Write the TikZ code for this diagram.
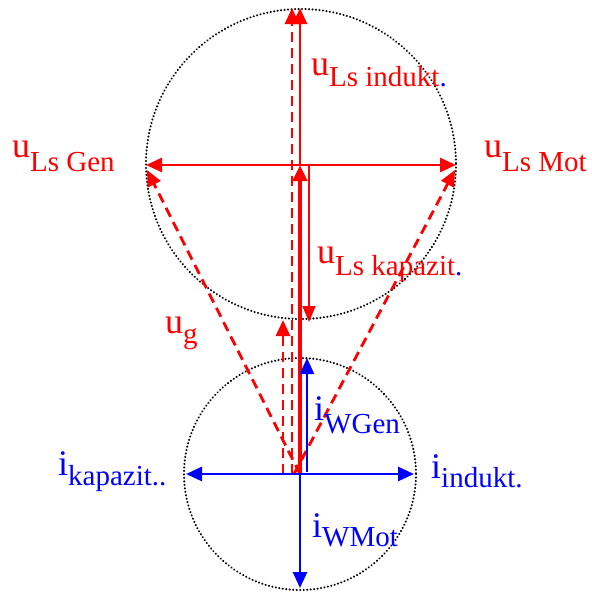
\documentclass[tikz,border=0pt]{standalone}
\usepackage{fontspec}
\setmainfont{Liberation Serif}
\usetikzlibrary{arrows.meta}
\newcommand\lsub[2]{\raisebox{-#1pt}{\fontsize{29}{29}\selectfont #2}}
\begin{document}
\begin{tikzpicture}[x=1pt,y=-1pt,
  vec/.style={line width=2.8pt,-{Triangle[length=16pt,width=14pt]}},
  rvec/.style={vec,draw=red},
  bvec/.style={vec,draw=blue},
  rdash/.style={rvec,dash pattern=on 10pt off 6pt},
  circ/.style={draw=black,line width=2.2pt,dash pattern=on 0.1pt off 3.4pt,line cap=round},
  lbl/.style={anchor=base west,inner sep=0pt,font=\fontsize{36}{36}\selectfont}]
\useasboundingbox (0,0) rectangle (592,592);
% coordinates
\coordinate (O) at (300,474);
\coordinate (T) at (300,165);
\coordinate (Ttop) at (300,8);
\coordinate (TL) at (146,165);
\coordinate (TR) at (456,165);
\coordinate (Kc) at (309,165);
\coordinate (Kb) at (309,322);
\coordinate (D0) at (292,474);
\coordinate (D1) at (292,8);
\coordinate (G0) at (283,474);
\coordinate (G1) at (283,320);
\coordinate (R0) at (294,474);
\coordinate (L1) at (147,170);
\coordinate (R1) at (455,170);
\coordinate (BL) at (186,474);
\coordinate (BR) at (414,474);
\coordinate (BD) at (300,588);
\coordinate (W0) at (307,472);
\coordinate (W1) at (307,358);
% circles
\draw[circ] (301,164) circle [radius=155];
\draw[circ] (300,474) circle [radius=116];
% red dashed
\draw[rdash] (D0) -- (D1);
\draw[rdash] (G0) -- (G1);
\draw[rdash] (O) -- (L1);
\draw[rdash] (R0) -- (R1);
% red solid
\draw[rvec] (T) -- (TL);
\draw[rvec] (T) -- (TR);
\draw[rvec] (T) -- (Ttop);
\draw[rvec,line width=4.5pt] (O) -- (T);
\draw[red,line width=1.6pt,-{Triangle[length=16pt,width=13pt]}] (T) -- (Kc) -- (Kb);
% blue
\draw[bvec] (O) -- (BL);
\draw[bvec] (O) -- (BR);
\draw[bvec] (O) -- (BD);
\draw[bvec,line width=2.2pt] (W0) -- (W1);
% labels
\node[lbl,text=red] (uind) at (311,75) {u\lsub{11}{Ls indukt\textcolor{blue}{.}}};
\node[lbl,text=red] (ugen) at (12,157) {u\lsub{14}{Ls Gen}};
\node[lbl,text=red] (umot) at (484,157) {u\lsub{14}{Ls Mot}};
\node[lbl,text=red] (ukap) at (317,263) {u\lsub{12}{Ls kapazit\textcolor{blue}{.}}};
\node[lbl,text=red] (ug) at (165,333) {u\lsub{10}{g}};
\node[lbl,text=blue] (iwgen) at (314,420) {i\lsub{13}{WGen}};
\node[lbl,text=blue] (ikap) at (58,475) {i\lsub{10}{kapazit..}};
\node[lbl,text=blue] (iind) at (431,478) {i\lsub{9}{indukt.}};
\node[lbl,text=blue] (iwmot) at (312,537) {i\lsub{9}{WMot}};
\end{tikzpicture}
\end{document}
